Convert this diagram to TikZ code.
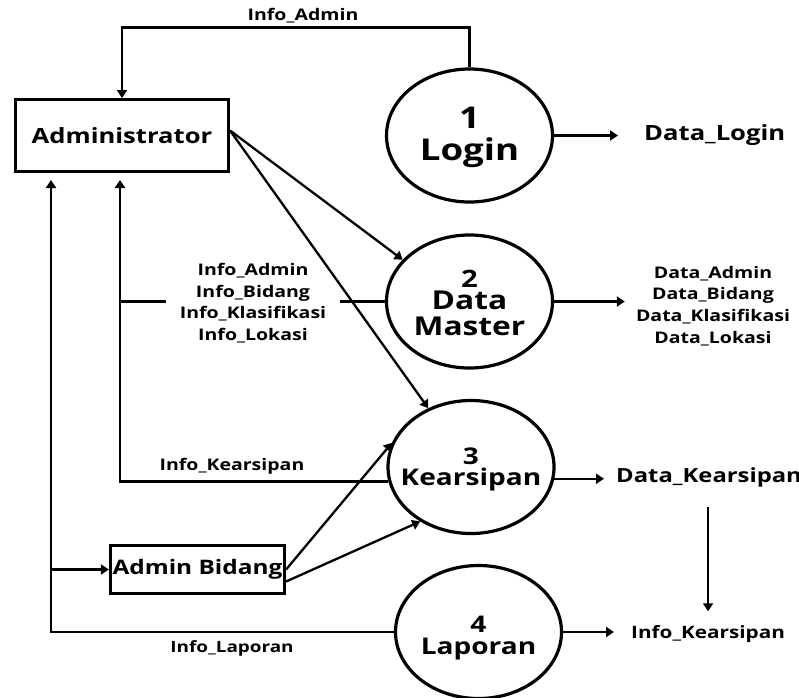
\documentclass[tikz,border=0pt]{standalone}
\usepackage{fontspec}
\setmainfont{Open Sans}[FakeStretch=1.22]
\usetikzlibrary{shapes.geometric,arrows.meta,calc}

\tikzset{
  proc/.style={ellipse, draw, line width=3.2pt, minimum width=166pt, minimum height=133pt,
    inner sep=0pt},
  proctext/.style={inner sep=0pt, align=center, font=\bfseries},
  ent/.style={rectangle, draw, line width=3.2pt, inner sep=0pt,
    font=\bfseries\fontsize{21}{24}\selectfont},
  flow/.style={line width=2.3pt},
  arr/.style={flow, -{Triangle[length=8pt,width=10pt]}},
  lbl/.style={inner sep=0pt, align=center, font=\bfseries\fontsize{16}{21.7}\selectfont},
}

\begin{document}
\begin{tikzpicture}[x=1pt,y=-1pt]
  \fill[white] (0,0) rectangle (799,697);
  \useasboundingbox (0,0) rectangle (799,697);

  % external entities
  \node[ent, minimum width=212.8pt, minimum height=71.8pt] (adm) at (122,135.5) {Administrator};
  \node[ent, minimum width=174pt, minimum height=48pt, font=\bfseries\fontsize{20}{24}\selectfont]
    (bid) at (197.5,569.5) {Admin Bidang};

  % processes
  \node[proc, label={[proctext, name=login-t, yshift=-2pt,
      font=\bfseries\fontsize{30}{32}\selectfont]center:{1\\Login}}] (login) at (469.5,135.5) {};
  \node[proc, label={[proctext, name=master-t, yshift=-1pt,
      font=\bfseries\fontsize{26}{26}\selectfont]center:{{\fontsize{24}{24}\selectfont 2}\\[-4pt]Data\\Master}}]
    (master) at (469.5,301.5) {};
  \node[proc, label={[proctext, name=kears-t, yshift=-2pt,
      font=\bfseries\fontsize{23}{21}\selectfont]center:{3\\Kearsipan}}] (kears) at (471,467) {};
  \node[proc, label={[proctext, name=lap-t, yshift=-6pt,
      font=\bfseries\fontsize{23}{22}\selectfont]center:{4\\Laporan}}] (lap) at (478.5,632) {};

  % data flow labels
  \node[lbl] (ltop) at (303,16) {Info\_Admin};
  \node[lbl, anchor=west, font=\bfseries\fontsize{21}{24}\selectfont] (dlogin) at (644,135) {Data\_Login};
  \node[lbl] (dmaster) at (713,306) {Data\_Admin\\Data\_Bidang\\Data\_Klasifikasi\\Data\_Lokasi};
  \node[lbl, anchor=west, font=\bfseries\fontsize{19.5}{22}\selectfont] (dkears) at (616,477) {Data\_Kearsipan};
  \node[lbl, anchor=west, font=\bfseries\fontsize{17}{20}\selectfont] (ikears) at (631,634) {Info\_Kearsipan};
  \node[lbl, font=\bfseries\fontsize{16}{18}\selectfont] (lkears) at (232,466) {Info\_Kearsipan};
  \node[lbl, font=\bfseries\fontsize{15.5}{18}\selectfont] (llap) at (232,648) {Info\_Laporan};
  \node[lbl] (lmaster) at (253,303) {Info\_Admin\\Info\_Bidang\\Info\_Klasifikasi\\Info\_Lokasi};

  % return points under the Administrator box
  \coordinate (a1) at (51,173);
  \coordinate (a2) at (120,173);
  \coordinate (jb) at (a1 |- bid.west);

  % flows
  \draw[arr] (login.north) -- ++(0,-40) -| (adm.north);
  \draw[arr, shorten >=26pt] (login.east) -- (login.east -| dlogin.west);
  \draw[arr, shorten >=11pt] (master.east) -- (master.east -| dmaster.west);
  \draw[arr, shorten >=12pt] (kears.-8) -- (kears.-8 -| dkears.west);
  \draw[arr, shorten >=17pt] (lap.east) -- (lap.east -| ikears.west);
  \draw[arr, shorten <=20pt, shorten >=14pt] (ikears.north |- dkears.south) -- (ikears.north);

  \draw[arr] ($(adm.east)+(0,-5)$) -- (master.148);
  \draw[arr] ($(adm.east)+(0,-5)$) -- (kears.126);

  \draw[flow] (master.west) -- ($(master.west -| lmaster.east)+(14,0)$);
  \draw[flow] ($(master.west -| lmaster.west)+(-14,0)$) -- (master.west -| a2);
  \draw[arr, shorten >=7pt] (kears.190) -| (a2);
  \draw[arr, shorten >=7pt] (lap.west) -| (a1);
  \draw[arr] (jb) -- (bid.west);

  \draw[arr] (bid.east) -- (kears.163);
  \draw[arr] ($(bid.east)+(0,12)$) -- (kears.227);
\end{tikzpicture}
\end{document}
